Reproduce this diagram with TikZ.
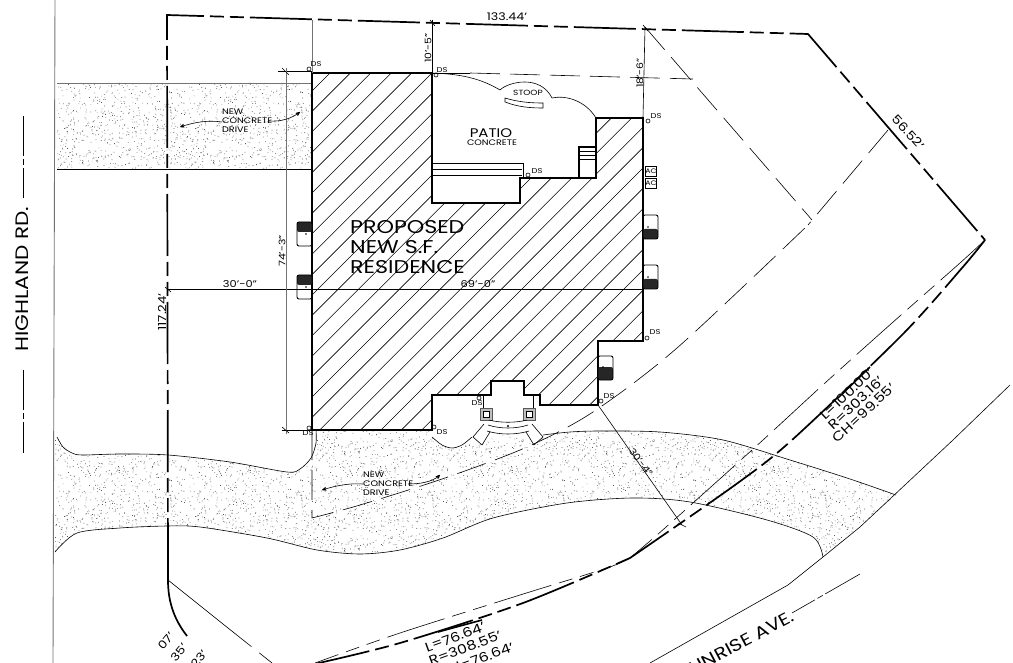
\documentclass[tikz,border=0pt]{standalone}
\usepackage{fontspec}
\setmainfont[FakeStretch=1.2]{Poppins}
\usetikzlibrary{arrows, positioning, patterns}
\pgfmathsetseed{11}
\pgfdeclarepatternformonly{grain}{\pgfpointorigin}{\pgfqpoint{131pt}{97pt}}{\pgfqpoint{131pt}{97pt}}{
  \foreach \k in {1,...,800}{
    \pgfmathsetmacro{\gx}{131*rnd}
    \pgfmathsetmacro{\gy}{97*rnd}
    \pgfpathrectangle{\pgfpoint{\gx pt}{\gy pt}}{\pgfqpoint{0.7pt}{0.7pt}}
    \pgfusepath{fill}
  }
}
\tikzset{
x=1pt, y=-1pt,
>=stealth', % arrow heads on the drive notes
plantext/.style={inner sep=0pt, font=\fontsize{#1}{#1}\selectfont},
plantext/.default=9,
noteline/.style={inner sep=0pt, font=\fontsize{8}{9}\selectfont},
wallline/.style={line width=1.5pt, line join=miter},
thinline/.style={line width=0.6pt},
greyline/.style={line width=0.9pt, black!55},
propline/.style={line width=1.7pt, dash pattern=on 62pt off 6pt on 14pt off 6pt on 14pt off 6pt},
roadline/.style={line width=0.6pt, dash pattern=on 60pt off 8pt on 14pt off 8pt on 14pt off 8pt},
setbackline/.style={line width=0.6pt, dash pattern=on 30pt off 10pt},
centerline/.style={line width=0.6pt, dash pattern=on 40pt off 3pt on 6pt off 3pt},
stipple/.style={pattern=grain, pattern color=black!65},
}
\newcommand{\driveshape}{(55,437) -- plot[smooth] coordinates {(57,437) (63,447) (72,453) (82,455) (120,454) (168,455) (230,462) (287,472) (300,469) (311,458) (316,443) (316,430)} -- (432,430) -- plot[smooth] coordinates {(432,437) (442,445) (452,448) (462,445) (472,437)} -- (478,436) -- plot[smooth] coordinates {(490,433) (508,436) (528,433) (543,435) (570,432) (600,431) (660,432) (723,440) (790,460) (850,479) (896,495)} -- (823,557) -- plot[smooth] coordinates {(823,557) (813,537) (767,520) (690,502) (633,498) (567,503) (493,518) (443,538) (400,550) (360,554) (317,550) (267,538) (200,527) (167,526) (120,528) (77,533) (55,552)} -- cycle}
\begin{document}
\begin{tikzpicture}
      \useasboundingbox (0,0) rectangle (1013,663);

      % drives
      \fill[stipple] (57,83) -- (312,83) -- (312,169) -- (57,169) -- cycle \driveshape;
      \draw[thinline] plot[smooth] coordinates {(57,437) (63,447) (72,453) (82,455) (120,454) (168,455) (230,462) (287,472) (300,469) (311,458) (316,443) (316,430)};
      \draw[thinline] plot[smooth] coordinates {(432,437) (442,445) (452,448) (462,445) (472,437)};
      \draw[thinline] plot[smooth] coordinates {(543,435) (570,432) (600,431) (660,432) (723,440) (790,460) (850,479) (896,495)};
      \draw[thinline] plot[smooth] coordinates {(823,557) (813,537) (767,520) (690,502) (633,498) (567,503) (493,518) (443,538) (400,550) (360,554) (317,550) (267,538) (200,527) (167,526) (120,528) (77,533) (55,552)};
      \draw[greyline] (55,0) -- (53,663);
      \draw[greyline] (57,83) -- (312,83);
      \draw[thinline] (57,169) -- (312,169);

      % road edge and center line
      \draw[thinline] (1010,385) -- (953,440) -- (860,527) -- (823,557) -- (788,585) -- (650,663);
      \draw[centerline] (860,574) -- (792,613);
      \draw[centerline] (23,116) -- (23,198);
      \draw[centerline] (23,370) -- (23,453);

      % house
      \begin{scope}
      \clip (312,73) -- (432,73) -- (432,203) -- (520,203) -- (520,178) -- (596,178) -- (596,118) -- (643,118) -- (643,341) -- (598,341) -- (598,405) -- (540,405) -- (540,395) -- (524,395) -- (524,381) -- (491,381) -- (491,395) -- (432,395) -- (432,430) -- (312,430) -- cycle;
      \foreach \k in {0,...,34}{\draw[thinline] ({403+20.4*\k-440},440) -- ({403+20.4*\k-60},60);}
      \end{scope}
      \draw[wallline] (312,73) -- (432,73) -- (432,203) -- (520,203) -- (520,178) -- (596,178) -- (596,118) -- (643,118) -- (643,341) -- (598,341) -- (598,405) -- (540,405) -- (540,395) -- (524,395) -- (524,381) -- (491,381) -- (491,395) -- (432,395) -- (432,430) -- (312,430) -- cycle;

      % patio
      \draw[thinline] (432,73) .. controls (460,74) and (480,78) .. (500,90);
      \draw[thinline] (500,90) .. controls (508,82) and (540,74) .. (552,98);
      \draw[thinline] (552,98) .. controls (565,95) and (585,100) .. (596,118);
      \draw[thinline] (505,98) .. controls (518,102) and (530,103) .. (543,103) -- (543,108) .. controls (530,108) and (518,107) .. (505,102) -- cycle;
      \draw[thinline] (432,163) -- (523,163) -- (523,178);
      \draw[thinline] (432,169) -- (522,169);
      \draw[thinline] (432,175) -- (522,175);
      \draw[wallline] (579,178) -- (579,147) -- (596,147);
      \draw[thinline] (579,151) -- (596,151);
      \draw[thinline] (579,155) -- (596,155);
      \draw[thinline] (579,159) -- (596,159);

      % porch
      \draw[line width=1pt] (483,395) -- (483,410);
      \draw[line width=1pt] (533,395) -- (533,410);
      \foreach \postx in {486,529}{
        \draw[line width=1pt, black!65, fill=black!25] (\postx-6,408) rectangle (\postx+6,420);
        \draw[line width=1pt, fill=white] (\postx-3,411) rectangle (\postx+3,417);
      }
      \draw[thinline, fill=white] (484,424) -- (473,437) -- (482,445) -- (490,432);
      \draw[thinline, fill=white] (532,424) -- (543,437) -- (534,445) -- (526,432);
      \draw[thinline] (489,420) .. controls (500,423) and (516,423) .. (527,420);
      \draw[thinline] (488,425) .. controls (500,429) and (516,429) .. (528,425);
      \draw[thinline] (487,431) .. controls (500,435) and (516,435) .. (529,431);
      \fill (508,426) circle (1.2);

      % bump outs on the walls
      \foreach \bumpy in {215,265}{
        \fill[black!85, rounded corners=2pt] (643,\bumpy+14) rectangle (658,\bumpy+24);
        \draw[line width=0.9pt, rounded corners=2pt] (643,\bumpy) rectangle (658,\bumpy+24);
        \fill (648,\bumpy+12) circle (0.9);
      }
      \foreach \bumpy in {222,275}{
        \fill[black!85, rounded corners=2pt] (297,\bumpy) rectangle (312,\bumpy+10);
        \draw[line width=0.9pt, rounded corners=2pt] (297,\bumpy) rectangle (312,\bumpy+24);
        \fill (306,\bumpy+12) circle (0.9);
      }
      \fill[black!85, rounded corners=2pt] (598,367) rectangle (613,380);
      \draw[line width=0.9pt, rounded corners=2pt] (598,356) rectangle (613,380);
      \fill (603,367) circle (0.9);

      % property lines
      \draw[propline] (168,580) -- (167,15) -- (808,34) -- (985,240);
      \draw[line width=1.7pt] (168,580) .. controls (168,600) and (173,618) .. (187,636);
      \draw[propline] plot[smooth] coordinates {(985,240) (962,268) (902,335) (792,440) (735,485) (630,558)} -- plot[smooth] coordinates {(630,558) (523,603) (400,643) (310,665)};

      % setbacks and road line
      \draw[thinline] (432,73) -- (470,73);
      \draw[setbackline] (470,73) -- (693,79);
      \draw[setbackline] (645,27) -- (812,220);
      \draw[setbackline] (888,130) -- (808,225);
      \draw[setbackline] (312,430) -- (312,518) -- plot[smooth] coordinates {(312,518) (360,505) (445,478) (527,447) (593,412) (677,348) (808,225)};
      \draw[roadline] plot[smooth] coordinates {(985,240) (960,263) (892,323) (825,383) (763,440) (693,503) (657,535) (630,558)} -- plot[smooth] coordinates {(630,558) (607,568) (520,595) (400,633) (315,663)};
      \draw[thinline] (168,580) -- (228,628);
      \draw[setbackline] (228,628) -- (272,663);

      % dimension lines
      \draw[thinline] (432,20) -- (432,73);
      \draw[thinline] (645,27) -- (643,118);
      \draw[thinline] (167,289) -- (643,289);
      \draw[thinline] (598,405) -- (682,525);
      \draw[thinline] (278,71) -- (312,71);
      \draw[thinline] (282,430) -- (312,430);
      \draw[greyline] (286,68) -- (286,434);
      \draw[greyline] (312,20) -- (312,73);
      \draw[thinline] (282,427) -- (289,433);
      \draw[thinline] (282,68) -- (289,75);
      \draw[thinline] (430,20) -- (435,26);
      \draw[thinline] (643,25) -- (648,31);
      \draw[thinline] (678,523) -- (686,527);
      \draw[thinline] (165,287) -- (171,292);
      \draw[line width=1.6pt] (838,398) -- (870,367);
      \draw[line width=1.6pt] (438,632) -- (482,620);

      % labels
      \node[plantext=18, rotate=90] (highland) at (22,279) {HIGHLAND RD.};
      \node[plantext=18.5, anchor=west] (proposed) at (350,227) {PROPOSED};
      \node[plantext=18.5, anchor=west] (newsf) at (350,247) {NEW S.F.};
      \node[plantext=18.5, anchor=west] (residence) at (350,267) {RESIDENCE};
      \node[plantext=12.5] (patio) at (491,133) {PATIO};
      \node[noteline] (patiotype) at (492,142.5) {CONCRETE};
      \node[plantext=7.5] (stoop) at (528,93) {STOOP};
      \node[plantext=10.5] (toplen) at (507,17) {133.44'};
      \node[plantext=9, rotate=90] (tenfive) at (428,48) {10'-5"};
      \node[plantext=9, rotate=90] (eighteensix) at (640,73) {18'-6"};
      \node[plantext=9, rotate=90] (seventyfour) at (282,251) {74'-3"};
      \node[plantext=9.5] (thirty) at (240,284) {30'-0"};
      \node[plantext=9.5] (sixtynine) at (478,284) {69'-0"};
      \node[plantext=11, rotate=90] (lotwest) at (162,312) {117.24'};
      \node[plantext=12, rotate=-48] (lotnorth) at (908,132) {56.52'};
      \node[plantext=9, rotate=-53] (thirtyfour) at (641,462) {30'-4"};
      \node[noteline, align=left, anchor=west] (topdrive) at (222,121) {NEW\\CONCRETE\\DRIVE};
      \node[noteline, align=left, anchor=west] (lowdrive) at (363,484) {NEW\\CONCRETE\\DRIVE};
      \draw[->, thinline] (222,122) .. controls (208,120) and (195,122) .. (180,127);
      \draw[->, thinline] (268,121) .. controls (282,122) and (292,118) .. (300,112);
      \draw[->, thinline] (363,484) .. controls (348,483) and (335,486) .. (322,490);
      \draw[->, thinline] (408,484) .. controls (420,484) and (432,482) .. (440,475);

      \foreach \dsx/\dsy/\cx/\cy in {313/64/309/69, 439/70/436/75, 653/116/648/121, 534/171/528/175, 652/332/647/338, 606/396/601/401, 474/403/479/398, 439/432/434/427, 305/433/309/428}{
        \node[plantext=7] at (\dsx+3,\dsy) {DS};
        \draw[thinline] (\cx,\cy) circle (2);
      }
      \foreach \acy/\acname in {171/aconeunit, 183/actwounit}{
        \node[draw, thinline, minimum width=10pt, minimum height=10pt, inner sep=0pt, font=\fontsize{6.5}{6.5}\selectfont] (\acname) at (651,\acy) {AC};
      }

      % curve data
      \node[plantext=13, rotate=43] (curvelen) at (847,394) {L=100.00'};
      \node[plantext=13, rotate=43] (curverad) at (856,403) {R=303.16'};
      \node[plantext=13, rotate=43] (curvech) at (864,413) {CH=99.55'};
      \node[plantext=13, rotate=20] (lowerlen) at (455,637) {L=76.64'};
      \node[plantext=13, rotate=20] (lowerrad) at (465,648) {R=308.55'};
      \node[plantext=13, rotate=20] (lowerch) at (476,660) {CH=76.64'};
      \node[plantext=11, rotate=50, anchor=east] (cornerone) at (172,634) {07'};
      \node[plantext=11, rotate=50, anchor=east] (cornertwo) at (185,645) {35'};
      \node[plantext=11, rotate=50, anchor=east] (cornerthree) at (205,652) {23'};
      \node[plantext=17, rotate=28, anchor=east] (sunrise) at (793,615) {SUNRISE AVE.};
    \end{tikzpicture}
\end{document}
